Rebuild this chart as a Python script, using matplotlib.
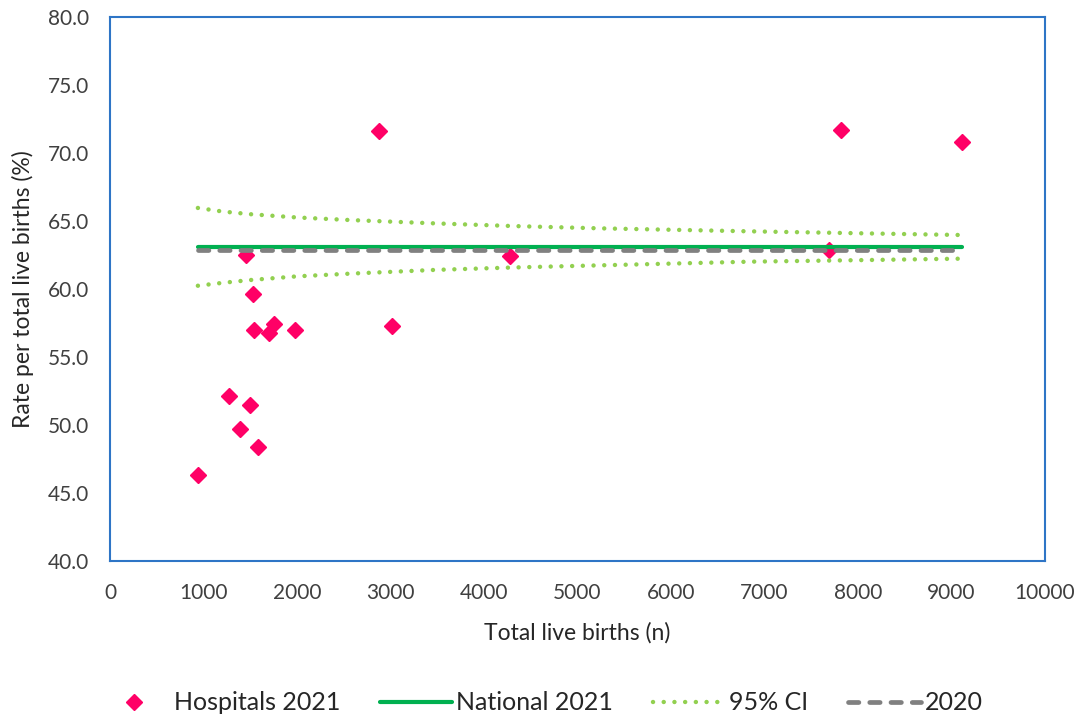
import matplotlib
matplotlib.use("Agg")
import matplotlib.pyplot as plt

# hospital points (births, rate %)
hosp_births = [938, 1451, 1526, 1537, 1751, 1704, 1975, 3013, 1273, 1494, 1394, 1580, 2877, 4278, 7821, 9115, 7693]
hosp_rate = [46.3, 62.5, 59.6, 57.0, 57.4, 56.8, 57.0, 57.3, 52.1, 51.5, 49.7, 48.4, 71.6, 62.4, 71.7, 70.8, 62.9]

# reference lines
line_births = [940, 9110]
national_2021 = [63.1, 63.1]
rate_2020 = [62.9, 62.9]

# 95% CI funnel
ci_births = [940, 1200, 1500, 2000, 2570, 3460, 4300, 5240, 6850, 8000, 9100]
ci_upper = [65.96, 65.7, 65.5, 65.26, 65.07, 64.83, 64.63, 64.46, 64.24, 64.1, 63.97]
ci_lower = [60.24, 60.45, 60.66, 60.93, 61.13, 61.40, 61.58, 61.74, 62.01, 62.12, 62.23]

plt.rcParams['font.family'] = ['Lato', 'DejaVu Sans']

fig = plt.figure(figsize=(10.81, 7.2), dpi=100)
ax = fig.add_axes([110/1081, 1 - 561/720, (1045-110)/1081, (561-17)/720])

ax.plot(hosp_births, hosp_rate, linestyle='none', marker='D', ms=8, color='#FF0066',
        label='Hospitals 2021', zorder=2)
ax.plot(line_births, national_2021, color='#00B050', lw=3, solid_capstyle='round',
        label='National 2021', zorder=3)
ax.plot(ci_births, ci_upper, color='#92D050', lw=3.2, linestyle=(0, (0.01, 2.4)),
        dash_capstyle='round', label='95% CI', zorder=3)
ax.plot(ci_births, ci_lower, color='#92D050', lw=3.2, linestyle=(0, (0.01, 2.4)),
        dash_capstyle='round', zorder=3)
ax.plot(line_births, rate_2020, color='#808080', lw=3.4, linestyle=(0, (2.2, 2.3)),
        dash_capstyle='round', label='2020', zorder=4)

ax.set_xlim(0, 10000)
ax.set_ylim(40, 80)
ax.set_xticks(range(0, 10001, 1000))
ax.set_yticks(range(40, 81, 5))
ax.set_yticklabels([f'{v:.1f}' for v in range(40, 81, 5)])
ax.tick_params(axis='x', length=0, labelsize=15, colors='#404040', pad=16)
ax.tick_params(axis='y', length=0, labelsize=15, colors='#404040', pad=15)
for s in ax.spines.values():
    s.set_color('#2E75C6')
    s.set_linewidth(1.5)

ax.set_xlabel('Total live births (n)', fontsize=16.5, color='#262626')
ax.set_ylabel('Rate per total live births (%)', fontsize=16.5, color='#262626')
ax.xaxis.set_label_coords(0.5, (561-622)/544)
ax.yaxis.set_label_coords((34-110)/935, 0.5)

fig.legend(loc='center', bbox_to_anchor=(540/1081, 1 - 703/720), ncol=4, frameon=False,
           fontsize=18, handlelength=2.9, handletextpad=0.15, columnspacing=1.6,
           labelcolor='#262626')

fig.savefig('out.png', dpi=100)
